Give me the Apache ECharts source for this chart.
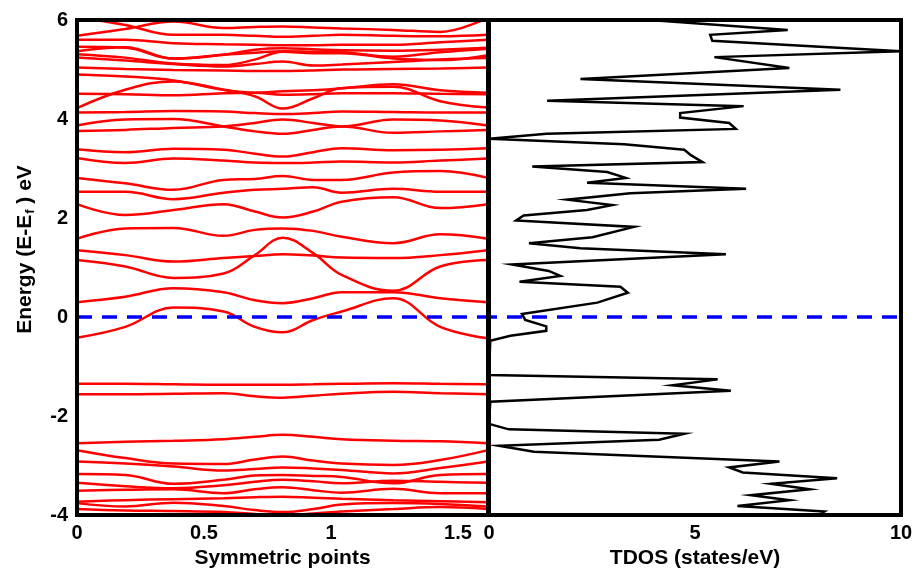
<!DOCTYPE html>
<html>
<head>
<meta charset="utf-8">
<script src="https://cdn.jsdelivr.net/npm/echarts@6/dist/echarts.min.js"></script>
<style>
  html, body { margin: 0; padding: 0; background: #fff; }
  #chart { width: 918px; height: 574px; }
</style>
</head>
<body>
<div id="chart"></div>
<script>
// k-path positions where each band energy is sampled
const kPath = [0, 0.19, 0.38, 0.577, 0.70, 0.81, 0.93, 1.042, 1.245, 1.43, 1.618];

// Conduction-side bands (eV, relative to E_f)
const bandA = [-0.42, -0.20, 0.19, 0.11, -0.20, -0.31, -0.06, 0.11, 0.38, -0.20, -0.43];
const bandB = [0.30, 0.41, 0.58, 0.50, 0.34, 0.28, 0.38, 0.50, 0.50, 0.38, 0.30];
const bandC = [1.15, 1.02, 0.79, 0.88, 1.25, 1.60, 1.29, 0.85, 0.53, 1.02, 1.15];
const bandD = [1.35, 1.25, 1.12, 1.19, 1.23, 1.27, 1.24, 1.20, 1.19, 1.25, 1.35];
const bandE = [1.58, 1.79, 1.80, 1.64, 1.76, 1.79, 1.74, 1.62, 1.49, 1.67, 1.58];
const bandF = [2.28, 2.06, 2.16, 2.28, 2.13, 2.01, 2.13, 2.33, 2.42, 2.20, 2.28];
const bandG = [2.53, 2.53, 2.38, 2.51, 2.57, 2.59, 2.62, 2.51, 2.59, 2.53, 2.53];
const bandH = [2.81, 2.70, 2.57, 2.77, 2.79, 2.85, 2.77, 2.77, 2.92, 2.95, 2.81];
const bandI = [3.21, 3.11, 3.20, 3.16, 3.12, 3.11, 3.12, 3.14, 3.12, 3.16, 3.20];
const bandJ = [3.39, 3.33, 3.40, 3.38, 3.30, 3.24, 3.33, 3.41, 3.37, 3.38, 3.41];
const bandK = [3.76, 3.78, 3.82, 3.85, 3.92, 3.99, 3.92, 3.85, 3.99, 3.97, 3.87];
const bandL = [3.87, 3.99, 4.00, 3.85, 3.75, 3.70, 3.78, 3.85, 3.72, 3.75, 3.78];
const bandM = [4.13, 4.14, 4.16, 4.15, 4.12, 4.10, 4.12, 4.15, 4.14, 4.13, 4.13];
const bandN = [4.22, 4.59, 4.76, 4.59, 4.46, 4.21, 4.42, 4.62, 4.65, 4.36, 4.23];
const bandO = [4.51, 4.50, 4.48, 4.52, 4.53, 4.49, 4.50, 4.52, 4.52, 4.51, 4.50];
const bandP = [4.90, 4.86, 4.78, 4.59, 4.53, 4.56, 4.58, 4.62, 4.70, 4.58, 4.53];
const bandQ = [5.04, 5.01, 4.99, 4.98, 4.97, 4.97, 4.98, 5.00, 5.01, 5.02, 5.04];
const bandR = [5.24, 5.18, 5.11, 5.06, 5.11, 5.16, 5.08, 5.10, 5.15, 5.20, 5.23];
const bandS = [5.31, 5.24, 5.12, 5.09, 5.20, 5.36, 5.33, 5.33, 5.22, 5.19, 5.29];
const bandT = [5.37, 5.45, 5.22, 5.30, 5.34, 5.37, 5.36, 5.35, 5.26, 5.35, 5.42];
const bandU = [5.46, 5.44, 5.22, 5.30, 5.40, 5.43, 5.41, 5.39, 5.38, 5.40, 5.44];
const bandV = [5.60, 5.60, 5.53, 5.51, 5.50, 5.49, 5.49, 5.50, 5.50, 5.55, 5.60];
const bandW = [6.05, 5.90, 5.70, 5.70, 5.68, 5.66, 5.68, 5.70, 5.68, 5.67, 5.70];
const bandX = [5.68, 5.82, 5.97, 5.84, 5.86, 5.87, 5.85, 5.83, 5.80, 5.76, 6.05];

// Valence-side bands
const bandV1 = [-1.35, -1.35, -1.36, -1.37, -1.37, -1.37, -1.36, -1.35, -1.34, -1.35, -1.36];
const bandV2 = [-1.56, -1.56, -1.55, -1.54, -1.60, -1.63, -1.59, -1.55, -1.51, -1.54, -1.56];
const bandV3 = [-2.55, -2.52, -2.50, -2.47, -2.42, -2.38, -2.42, -2.47, -2.50, -2.51, -2.55];
const bandV4 = [-2.69, -2.85, -2.96, -2.97, -2.88, -2.82, -2.90, -2.96, -2.99, -2.89, -2.69];
const bandV5 = [-2.92, -2.96, -3.02, -3.10, -3.07, -3.04, -3.06, -3.09, -3.16, -3.05, -2.92];
const bandV6 = [-3.17, -3.19, -3.37, -3.29, -3.20, -3.19, -3.21, -3.23, -3.36, -3.19, -3.17];
const bandV7 = [-3.35, -3.42, -3.46, -3.40, -3.33, -3.29, -3.32, -3.36, -3.31, -3.33, -3.35];
const bandV8 = [-3.51, -3.49, -3.48, -3.56, -3.48, -3.44, -3.50, -3.55, -3.47, -3.56, -3.56];
const bandV9 = [-3.73, -3.70, -3.68, -3.66, -3.64, -3.63, -3.65, -3.67, -3.70, -3.72, -3.74];
const bandV10 = [-3.76, -3.83, -3.75, -3.82, -3.90, -3.94, -3.88, -3.79, -3.76, -3.78, -3.83];
const bandV11 = [-3.88, -3.91, -3.92, -3.94, -3.98, -4.00, -3.97, -3.93, -3.88, -3.84, -3.88];

const bands = [
  bandA, bandB, bandC, bandD, bandE, bandF, bandG, bandH, bandI, bandJ, bandK, bandL,
  bandM, bandN, bandO, bandP, bandQ, bandR, bandS, bandT, bandU, bandV, bandW, bandX,
  bandV1, bandV2, bandV3, bandV4, bandV5, bandV6, bandV7, bandV8, bandV9, bandV10, bandV11
];

// Total density of states: energy (eV) and states/eV
const dosEnergy = [
  6.00, 5.80, 5.70, 5.58, 5.37, 5.25, 5.03, 4.81, 4.59, 4.37, 4.26, 4.12, 4.03, 3.92, 3.80,
  3.70, 3.60, 3.49, 3.38, 3.27, 3.13, 3.04, 2.93, 2.81, 2.71, 2.59, 2.50, 2.37, 2.26, 2.16,
  2.05, 1.95, 1.82, 1.61, 1.49, 1.39, 1.27, 1.06, 0.93, 0.83, 0.71, 0.61, 0.49, 0.29, 0.06,
  -0.06, -0.19, -0.28, -0.38, -0.48, -1.17, -1.26, -1.38, -1.49, -1.71, -2.16, -2.27, -2.36,
  -2.48, -2.60, -2.72, -2.92, -3.04, -3.14, -3.26, -3.37, -3.48, -3.60, -3.70, -3.82, -3.93, -4.00
];
const dosStates = [
  3.90, 7.25, 5.37, 5.42, 10.0, 5.47, 7.29, 2.22, 8.53, 1.41, 6.18, 4.64, 4.64, 5.83, 5.99,
  1.40, 0.00, 3.28, 4.74, 4.90, 5.18, 1.05, 2.87, 3.32, 2.38, 6.24, 3.43, 1.90, 2.99, 2.38,
  0.84, 0.66, 3.52, 2.51, 0.97, 2.22, 5.75, 0.56, 1.45, 1.73, 0.74, 3.19, 3.37, 2.63, 0.80,
  0.88, 1.39, 1.39, 0.52, 0.03, 0.00, 5.55, 4.45, 5.87, 0.03, 0.00, 0.48, 4.74,
  4.13, 0.24, 1.09, 7.05, 5.83, 6.16, 8.45, 6.85, 7.78, 6.36, 7.29, 6.03, 8.14, 8.00
];

// Axis ranges and tick labels
const energyTicks = [-4, -2, 0, 2, 4, 6];
const kTicks = [0, 0.5, 1, 1.5];
const kEnd = 1.618;
const dosTicks = [0, 5, 10];

const FONT = '"Liberation Sans", Arial, Helvetica, sans-serif';
const labelStyle = { fontFamily: FONT, fontWeight: 'bold', fontSize: 20, color: '#000' };

const chart = echarts.init(document.getElementById('chart'));

const series = bands.map(b => ({
  type: 'line',
  xAxisIndex: 0, yAxisIndex: 0,
  data: kPath.map((k, i) => [k, b[i]]),
  smooth: 0.4,
  symbol: 'none',
  lineStyle: { color: '#ff0000', width: 2.5 },
  silent: true
}));

series.push({
  type: 'line',
  xAxisIndex: 1, yAxisIndex: 1,
  data: dosEnergy.map((e, i) => [dosStates[i], e]),
  symbol: 'none',
  lineStyle: { color: '#000', width: 2.5, join: 'miter' },
  silent: true
});

// Fermi level marker across both panels
series.push({
  type: 'line', xAxisIndex: 0, yAxisIndex: 0,
  data: [[0, 0], [kEnd, 0]], symbol: 'none', silent: true, z: 5,
  lineStyle: { color: '#0000ff', width: 3.5, type: [15, 10] }
});
series.push({
  type: 'line', xAxisIndex: 1, yAxisIndex: 1,
  data: [[0, 0], [dosTicks[dosTicks.length - 1], 0]], symbol: 'none', silent: true, z: 5,
  lineStyle: { color: '#0000ff', width: 3.5, type: [15, 10], dashOffset: 7 }
});

const yCommon = {
  type: 'value',
  min: energyTicks[0], max: energyTicks[energyTicks.length - 1], interval: 2,
  axisLine: { show: false }, axisTick: { show: false }, splitLine: { show: false }
};

chart.setOption({
  animation: false,
  backgroundColor: '#fff',
  grid: [
    { left: 77, top: 20, width: 411, height: 495, show: true, borderColor: '#000', borderWidth: 4, z: 10 },
    { left: 489, top: 20, width: 412, height: 495, show: true, borderColor: '#000', borderWidth: 4, z: 10 }
  ],
  xAxis: [
    {
      gridIndex: 0, type: 'value', min: 0, max: kEnd, interval: 0.5,
      name: 'Symmetric points', nameLocation: 'middle', nameGap: 32,
      nameTextStyle: { fontFamily: FONT, fontWeight: 'bold', fontSize: 21, color: '#000' },
      axisLabel: Object.assign({ margin: 8, showMaxLabel: false,
        formatter: v => (kTicks.indexOf(v) >= 0 ? String(v) : '') }, labelStyle),
      axisLine: { show: false }, axisTick: { show: false }, splitLine: { show: false }
    },
    {
      gridIndex: 1, type: 'value', min: dosTicks[0], max: dosTicks[dosTicks.length - 1], interval: 5,
      name: 'TDOS (states/eV)', nameLocation: 'middle', nameGap: 32,
      nameTextStyle: { fontFamily: FONT, fontWeight: 'bold', fontSize: 21, color: '#000' },
      axisLabel: Object.assign({ margin: 8 }, labelStyle),
      axisLine: { show: false }, axisTick: { show: false }, splitLine: { show: false }
    }
  ],
  yAxis: [
    Object.assign({}, yCommon, {
      gridIndex: 0,
      name: '{a|Energy (E-E}{s|f}{a| ) eV}', nameLocation: 'middle', nameGap: 40,
      nameTextStyle: {
        padding: [0, 0, 0, 36],
        rich: {
          a: { fontFamily: FONT, fontWeight: 'bold', fontSize: 21, color: '#000' },
          s: { fontFamily: FONT, fontWeight: 'bold', fontSize: 13, color: '#000', padding: [10, 0, 0, 1] }
        }
      },
      axisLabel: Object.assign({ margin: 9 }, labelStyle)
    }),
    Object.assign({}, yCommon, { gridIndex: 1, axisLabel: { show: false } })
  ],
  series: series
});
</script>
</body>
</html>
